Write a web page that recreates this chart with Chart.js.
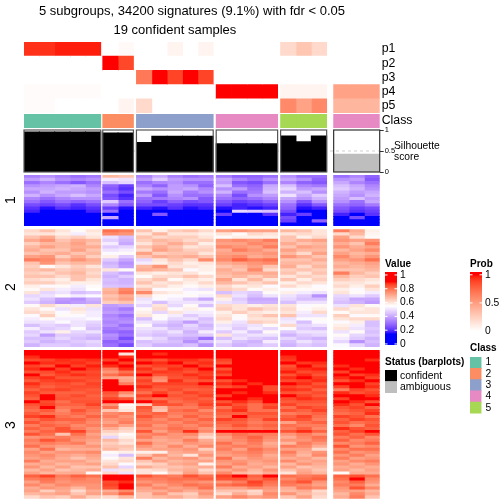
<!DOCTYPE html>
<html><head><meta charset="utf-8">
<style>
html,body{margin:0;padding:0;background:#fff;width:504px;height:504px;overflow:hidden}
canvas{position:absolute;left:0;top:0}
.t{position:absolute;font-family:"Liberation Sans",Helvetica,Arial,sans-serif;color:#000;white-space:pre;line-height:1}
</style>
<script src="https://cdn.jsdelivr.net/npm/chart.js@4/dist/chart.umd.min.js"></script>
</head><body>
<script>
// ---------- data ----------
const groupSizes = [5,2,5,4,3,3];
const sampleClass = [1,1,1,1,1, 2,2, 3,3,3,3,3, 4,4,4,4, 5,5,5, 4,4,4];
const classLabels = ['1','2','3','4','5'];
const classColors = ['#66C2A5','#FC8D62','#8DA0CB','#E78AC3','#A6D854'];
const trackLabels = ['p1','p2','p3','p4','p5'];
const p1 = [.93,.93,.97,.97,.97, 0,.03, 0,0,.06,0,.06, 0,0,0,0, .2,.3,.2, 0,0,0];
const p2 = [0,0,0,0,0, 1,.87, 0,0,0,0,0, 0,0,0,0, 0,0,0, 0,0,0];
const p3 = [0,0,0,0,0, 0,0, .68,1,.88,1,.88, 0,0,0,0, 0,0,0, 0,0,0];
const p4 = [.02,.02,.02,.02,.02, 0,0, 0,0,0,0,0, 1,1,1,1, .06,.06,.06, .48,.48,.48];
const p5 = [.02,.02,0,0,0, 0,.06, .2,0,0,0,0, 0,0,0,0, .6,.48,.6, .38,.38,.38];
const silhouette = [.95,.95,.95,.95,.95, .93,.93, .70,.85,.85,.85,.85, .67,.67,.67,.67, .86,.72,.86, .42,.42,.42];
const sampleStatus = [0,0,0,0,0, 0,0, 0,0,0,0,0, 0,0,0,0, 0,0,0, 1,1,1];
const statusLabels = ['confident','ambiguous'];
const statusColors = ['#000000','#BEBEBE'];
const silhouetteTicks = [0,0.5,1];
const valueTicks = [0,0.2,0.4,0.6,0.8,1];
const probTicks = [0,0.5,1];
// heat slices, values in hundredths, one row per line, samples left to right
const slice1 = [
[33,36,33,30,32,68,66,34,40,33,30,32,32,28,28,30,36,30,30,30,34,28],
[38,42,36,34,36,52,50,38,46,38,36,36,40,34,30,36,40,36,28,36,38,26],
[30,34,30,26,30,44,48,30,34,36,30,30,38,26,24,30,34,28,26,40,34,30],
[36,38,40,42,34,28,22,34,28,38,36,28,44,30,28,40,44,34,32,44,40,34],
[40,40,42,40,38,26,20,40,36,38,40,34,36,38,30,42,48,38,40,46,42,36],
[36,42,38,38,36,30,24,32,30,40,32,36,42,30,32,44,42,44,36,42,38,40],
[42,36,40,44,40,24,18,38,26,36,30,30,34,24,36,38,50,40,46,40,36,42],
[34,30,34,36,36,26,20,30,32,34,36,26,30,28,30,34,40,36,42,38,44,38],
[30,26,30,28,30,46,30,28,22,28,24,26,26,22,24,28,36,26,36,36,30,40],
[24,22,24,20,24,34,26,24,24,22,20,20,22,18,20,22,30,20,26,30,28,32],
[20,16,20,18,20,22,16,18,16,20,16,18,16,18,16,18,28,16,18,26,22,24],
[18,15,15,15,18,30,15,15,15,15,15,15,15,48,46,44,24,15,15,24,20,22],
[15,15,15,15,15,15,15,15,26,15,15,15,22,15,15,20,18,22,15,18,15,20],
[15,15,15,15,15,40,15,15,15,15,15,15,15,15,15,15,24,15,15,15,24,15],
[15,15,15,15,15,15,15,15,15,15,15,15,15,15,15,15,22,15,28,15,15,15],
[15,15,15,15,15,15,15,15,15,15,15,15,15,15,15,15,15,15,15,15,15,15]];
const slice2 = [
[62,66,60,56,60,80,78,66,58,64,66,62,72,74,72,72,68,66,60,78,70,58],
[60,60,58,52,58,76,74,60,68,60,60,58,60,56,62,60,60,62,60,62,68,57],
[66,70,62,64,60,50,44,66,62,64,64,60,56,58,58,58,66,58,62,72,62,56],
[70,74,66,70,68,47,42,64,68,66,62,64,74,76,74,78,66,70,72,74,72,74],
[64,68,68,72,66,52,40,60,66,70,66,58,72,72,76,74,70,66,68,70,66,78],
[68,72,68,70,70,46,48,66,70,66,60,62,76,74,72,78,66,72,70,74,70,72],
[70,66,66,72,66,50,52,62,72,68,64,64,70,78,74,70,72,68,68,68,72,76],
[66,68,70,66,68,54,56,72,64,66,66,60,72,72,72,74,68,62,72,72,68,70],
[72,74,64,70,64,58,46,66,70,68,70,66,74,76,70,72,74,70,66,76,70,74],
[78,76,70,74,70,46,40,48,60,66,62,76,76,82,78,80,66,66,70,72,74,80],
[66,74,66,68,68,42,36,52,58,62,58,60,70,72,74,76,68,68,66,68,70,72],
[64,56,60,64,60,44,38,68,74,60,60,58,66,68,72,66,70,62,68,70,68,70],
[66,68,64,66,64,60,56,70,68,66,54,58,70,66,76,62,64,66,64,66,66,68],
[64,62,66,68,62,44,40,60,58,60,60,56,68,70,70,70,66,60,66,78,68,64],
[66,66,62,66,64,42,46,56,62,62,66,62,66,68,64,68,60,64,62,68,64,66],
[62,60,58,66,60,44,42,62,66,56,60,58,72,60,68,60,66,58,64,64,62,60],
[64,64,60,58,58,43,42,66,60,62,58,62,68,66,62,66,58,62,60,60,60,58],
[58,54,56,52,56,45,44,60,62,58,56,58,62,58,60,54,62,58,54,62,58,64],
[56,60,52,50,55,68,76,66,54,56,52,50,64,62,56,58,54,56,56,58,54,60],
[60,48,50,44,46,70,78,76,60,58,54,56,44,48,46,56,58,52,50,60,56,52],
[48,50,56,52,54,66,70,62,56,54,56,52,62,50,44,50,50,46,36,48,50,46],
[50,44,38,36,42,68,72,50,54,52,46,40,58,46,40,40,48,44,44,46,40,40],
[46,42,36,38,40,64,66,52,44,50,50,50,50,48,42,42,44,50,50,44,42,38],
[56,62,58,52,60,38,40,48,60,48,56,44,62,60,58,60,60,54,56,50,60,56],
[60,56,50,60,50,36,32,56,62,54,58,56,64,60,66,62,62,56,58,62,58,60],
[62,60,54,58,52,38,36,58,48,60,52,52,58,64,60,58,60,52,62,56,60,60],
[54,64,56,54,52,34,30,60,56,52,46,50,60,56,62,66,66,50,50,64,54,56],
[52,56,52,52,54,36,34,44,54,48,50,44,62,54,60,60,50,54,56,60,62,62],
[50,50,54,50,48,34,36,50,48,44,38,46,58,50,64,62,52,44,54,54,58,44],
[44,48,46,50,46,36,30,56,44,42,48,42,50,48,50,56,62,48,50,58,52,44],
[52,46,48,54,44,32,34,50,50,44,46,44,52,46,52,48,54,46,44,60,50,46],
[46,50,58,48,50,30,28,48,46,50,42,52,46,52,44,56,46,50,50,50,56,44],
[48,38,46,46,44,36,30,46,44,46,44,46,60,48,50,50,42,46,48,56,48,46],
[44,44,48,44,42,34,24,52,48,42,40,30,44,50,46,44,48,44,42,52,46,42],
[46,42,44,46,48,28,30,44,46,44,36,44,50,44,42,52,44,50,46,48,36,44],
[42,46,46,44,46,30,24,46,42,42,44,36,46,42,44,46,42,46,44,54,48,42]];
const slice3 = [
[95,95,95,95,95,92,92,95,95,95,95,95,95,95,95,95,95,95,95,95,95,95],
[93,93,95,95,93,90,60,93,88,95,95,95,95,95,95,95,95,95,95,95,95,95],
[88,90,92,90,92,92,88,90,92,93,92,90,90,95,95,95,88,92,93,95,95,92],
[85,86,88,87,88,86,90,86,84,88,88,86,86,95,95,95,87,90,90,92,93,88],
[91,88,87,88,86,90,86,91,88,90,86,88,84,95,95,95,90,87,88,95,90,92],
[86,84,90,86,89,88,92,84,86,86,90,86,92,95,95,95,84,90,86,88,90,90],
[88,90,86,91,87,78,88,88,83,88,86,90,84,95,95,95,86,88,89,90,88,95],
[84,85,88,85,85,74,80,85,87,86,84,87,88,95,95,95,89,85,86,86,92,90],
[90,83,86,88,86,80,84,90,84,85,88,86,85,95,90,95,84,88,84,92,86,88],
[86,88,84,84,85,72,70,83,76,84,85,88,90,92,93,95,88,90,87,88,90,86],
[83,86,87,86,84,92,72,86,74,88,83,84,84,88,90,95,85,86,88,84,88,90],
[88,84,85,83,86,95,78,84,86,86,86,92,88,90,88,92,92,88,84,90,92,86],
[85,82,84,85,85,93,90,88,84,84,84,85,84,86,90,85,86,84,86,86,90,88],
[82,85,86,84,83,91,95,84,82,85,82,83,92,93,92,85,88,87,82,78,86,84],
[86,83,82,82,84,84,76,80,86,82,86,84,90,88,90,88,84,83,85,88,84,86],
[84,93,83,85,82,82,70,86,92,84,83,86,86,92,90,93,90,86,83,90,92,88],
[82,92,84,83,83,86,84,82,80,82,84,82,90,90,88,90,85,88,86,86,90,90],
[92,85,80,84,84,90,90,90,86,80,82,84,84,88,84,95,83,84,84,92,88,84],
[84,86,82,82,86,74,56,64,84,84,80,86,88,84,80,84,86,82,82,88,84,90],
[82,92,79,80,82,80,58,84,68,78,78,82,80,86,80,86,80,86,84,84,86,82],
[80,83,76,84,80,66,60,82,66,80,82,76,84,88,80,80,84,82,86,82,84,86],
[83,80,78,81,78,76,78,80,82,78,79,80,82,82,84,84,78,80,82,80,82,88],
[86,88,80,78,82,78,74,84,80,76,82,78,80,90,82,82,82,86,80,86,84,80],
[80,84,82,82,78,74,76,80,76,80,78,82,86,84,80,86,84,84,78,82,86,84],
[84,80,78,80,76,72,78,78,78,76,80,78,82,82,78,80,72,80,82,84,80,82],
[78,82,80,76,78,76,72,80,74,78,76,80,80,84,80,82,80,78,78,80,76,84],
[82,79,84,78,74,70,64,76,76,80,78,74,78,80,78,80,78,82,76,88,84,82],
[78,82,84,86,76,64,62,84,72,78,88,76,92,95,90,95,84,88,82,82,86,92],
[84,80,66,80,72,60,56,76,78,74,76,66,76,80,78,78,74,78,74,84,80,84],
[74,76,78,76,74,48,58,78,72,74,72,62,72,78,82,76,70,76,80,78,82,76],
[78,84,80,74,72,68,62,72,70,72,78,70,74,76,80,74,74,74,78,82,76,78],
[76,78,76,78,70,64,60,80,72,70,74,72,80,74,78,70,68,78,74,76,78,82],
[80,74,72,72,74,66,66,74,70,76,70,76,76,78,76,72,78,76,70,84,74,76],
[72,80,68,70,70,68,64,70,72,72,74,64,78,72,80,76,72,72,62,76,80,80],
[76,72,74,74,76,56,58,58,58,70,72,70,74,76,78,74,78,70,74,80,74,76],
[74,76,72,70,72,52,44,66,74,68,60,74,72,74,76,70,74,68,76,74,78,72],
[72,74,70,66,70,56,60,78,68,72,74,68,80,70,74,72,70,72,68,78,72,74],
[78,70,72,72,68,60,62,66,72,68,70,72,74,74,72,74,76,70,72,72,76,78],
[70,72,68,70,72,62,54,62,64,70,72,58,72,76,70,72,68,74,70,74,70,74],
[74,68,72,66,66,66,48,70,66,66,68,70,78,70,72,68,72,66,68,70,72,70],
[68,72,66,68,70,50,60,60,62,68,70,62,70,74,68,74,66,70,66,72,68,72],
[72,68,70,70,56,62,50,60,56,64,72,66,76,68,66,70,60,72,68,56,70,70],
[82,86,78,82,80,93,92,84,80,78,84,80,86,90,82,92,80,78,80,82,84,80],
[78,80,76,78,76,95,90,78,78,80,80,82,84,84,80,84,76,80,82,80,90,76],
[72,78,74,76,76,85,88,74,76,78,76,74,74,78,86,80,80,84,74,76,82,74],
[76,72,76,74,74,86,90,78,72,76,80,78,80,82,84,78,78,76,72,78,78,70],
[70,74,72,68,74,84,92,72,76,72,74,80,72,72,76,74,70,78,76,74,84,76],
[72,64,70,62,70,70,76,70,70,74,70,72,66,66,62,72,68,70,62,72,72,68],
[68,70,72,66,72,74,82,66,74,66,64,74,62,70,64,76,74,68,64,68,76,70],
[62,66,64,70,64,62,68,66,68,70,66,70,72,76,72,74,66,72,62,70,78,66]];

// ---------- layout ----------
const FONT = '"Liberation Sans",Helvetica,Arial,sans-serif';
const heatLeft = 24, heatRight = 379.7;
const groupGapsPx = [2,3,3,3,7];
const columnPx = (heatRight-heatLeft-groupGapsPx.reduce((a,b)=>a+b,0))/22;
const colStart = [];
const groupSpans = [];
(function(){ let x=0; groupSizes.forEach((n,k)=>{ const s=x; for(let i=0;i<n;i++){colStart.push(x); x+=1;} groupSpans.push([s,x]); x+= (groupGapsPx[k]||0)/columnPx; }); })();
const xMax = colStart[21]+1;

// ---------- colour ramps interpolated in LAB ----------
function rgb2lab(c){
  let [r,g,b]=c.map(v=>{v/=255;return v>0.04045?Math.pow((v+0.055)/1.055,2.4):v/12.92;});
  let X=(r*.4124564+g*.3575761+b*.1804375)/.95047, Y=r*.2126729+g*.7151522+b*.072175, Z=(r*.0193339+g*.119192+b*.9503041)/1.08883;
  const f=t=>t>0.008856?Math.cbrt(t):7.787*t+16/116;
  return [116*f(Y)-16,500*(f(X)-f(Y)),200*(f(Y)-f(Z))];
}
function lab2rgb(l){
  const fy=(l[0]+16)/116,fx=l[1]/500+fy,fz=fy-l[2]/200;
  const g=t=>t*t*t>0.008856?t*t*t:(t-16/116)/7.787;
  const X=g(fx)*.95047,Y=g(fy),Z=g(fz)*1.08883;
  const lin=[3.2404542*X-1.5371385*Y-.4985314*Z,-.969266*X+1.8760108*Y+.041556*Z,.0556434*X-.2040259*Y+1.0572252*Z];
  return lin.map(v=>{v=Math.max(0,Math.min(1,v));v=v>0.0031308?1.055*Math.pow(v,1/2.4)-.055:12.92*v;return Math.round(v*255);});
}
function ramp(stops){
  const labs=stops.map(s=>rgb2lab(s[1]));
  return v=>{
    if(v<=stops[0][0]) return 'rgb('+stops[0][1].join(',')+')';
    for(let i=1;i<stops.length;i++){
      if(v<=stops[i][0]){
        const t=(v-stops[i-1][0])/(stops[i][0]-stops[i-1][0]);
        const c=lab2rgb(labs[i].map((x,k)=>labs[i-1][k]+(x-labs[i-1][k])*t));
        return 'rgb('+c.join(',')+')';
      }
    }
    return 'rgb('+stops[stops.length-1][1].join(',')+')';
  };
}
const valueColor = ramp([[0.15,[0,0,255]],[0.55,[255,255,255]],[0.9,[255,0,0]]]);
const probColor = ramp([[0,[255,255,255]],[1,[255,0,0]]]);

// ---------- helpers ----------
let zIndex=1;
function makeCanvas(){
  const c=document.createElement('canvas');
  c.width=504;c.height=504;c.style.width='504px';c.style.height='504px';c.style.zIndex=zIndex++;
  document.body.appendChild(c);
  return c;
}
function padFor(b,hasAxis){return {left:b.l,top:b.t,right:hasAxis?0:504-b.r,bottom:504-b.b};}
// the right-hand axis takes all the room to the canvas edge so that its labels are not clipped
function axisRoom(b,hasAxis){return s=>{if(hasAxis!==false)s.width=504-b.r;};}
// grid of cells: one bar dataset per column, one category per row
function cellPanel(box,rowLabels,spans,colourOf,tickFont,tickPad){
  const datasets=spans.map((sp,c)=>({
    data:rowLabels.map(()=>sp),
    backgroundColor:rowLabels.map((_,r)=>colourOf(r,c)),
    borderWidth:0,barPercentage:1,categoryPercentage:1,grouped:false,inflateAmount:0.4
  }));
  new Chart(makeCanvas(),{type:'bar',data:{labels:rowLabels,datasets},options:{
    indexAxis:'y',responsive:false,animation:false,devicePixelRatio:1,events:[],
    layout:{padding:padFor(box,!!tickFont)},
    plugins:{legend:{display:false},title:{display:false},tooltip:{enabled:false}},
    scales:{
      x:{type:'linear',display:false,min:spans[0][0],max:spans[spans.length-1][1],offset:false,stacked:false},
      y:{type:'category',position:'right',display:!!tickFont,afterFit:axisRoom(box,!!tickFont),
         grid:{display:false,drawTicks:false},border:{display:false},
         ticks:{font:{family:FONT,size:tickFont||10},color:'#000',padding:tickPad||2,autoSkip:false,maxRotation:0}}
    }
  }});
}
const sampleSpans=colStart.map(x=>[x,x+1]);
function text(str,x,y,size,opt){
  opt=opt||{};
  const d=document.createElement('div');d.className='t';d.textContent=str;
  d.style.left=x+'px';d.style.top=y+'px';d.style.fontSize=size+'px';d.style.zIndex=50;
  if(opt.bold)d.style.fontWeight='bold';
  if(opt.color)d.style.color=opt.color;
  if(opt.transform)d.style.transform=opt.transform;
  document.body.appendChild(d);
  return d;
}

// ---------- annotation tracks ----------
const tracks=[p1,p2,p3,p4,p5];
cellPanel({l:heatLeft,r:heatRight,t:42,b:113},trackLabels,sampleSpans,(r,c)=>probColor(tracks[r][c]),12.3,2);
cellPanel({l:heatLeft,r:heatRight,t:114,b:128},['Class'],sampleSpans,(r,c)=>classColors[sampleClass[c]-1],12.3,2);

// ---------- silhouette ----------
const silBox={l:heatLeft,r:heatRight,t:130,b:172};
const silPlugin={id:'silFrame',
  beforeDatasetsDraw(ch){
    const {ctx,scales:{x,y}}=ch;
    ctx.save();ctx.strokeStyle='#d0d0d0';ctx.lineWidth=1;ctx.setLineDash([3,3]);
    ctx.beginPath();ctx.moveTo(x.getPixelForValue(0),y.getPixelForValue(.5));ctx.lineTo(x.getPixelForValue(xMax),y.getPixelForValue(.5));ctx.stroke();ctx.restore();
  },
  afterDatasetsDraw(ch){
    const {ctx,scales:{x,y}}=ch;
    ctx.save();ctx.strokeStyle='#555';ctx.lineWidth=1.2;
    groupSpans.forEach((s,k)=>{
      if(k===5)ctx.strokeStyle='#333';
      const a=x.getPixelForValue(s[0]),b=x.getPixelForValue(s[1]),t=y.getPixelForValue(1),u=y.getPixelForValue(0);
      ctx.strokeRect(a,t,b-a,u-t);
    });
    ctx.restore();
  }};
new Chart(makeCanvas(),{type:'bar',data:{datasets:[{
    data:silhouette.map((v,i)=>({x:colStart[i]+.5,y:v})),
    backgroundColor:sampleStatus.map(s=>statusColors[s]),
    borderWidth:0,barPercentage:1,categoryPercentage:1,inflateAmount:0.5}]},
  plugins:[silPlugin],
  options:{responsive:false,animation:false,devicePixelRatio:1,events:[],
    layout:{padding:padFor(silBox,true)},
    plugins:{legend:{display:false},tooltip:{enabled:false}},
    scales:{
      x:{type:'linear',display:false,min:0,max:xMax,offset:false,afterBuildTicks(s){s.ticks=[{value:0},{value:xMax}];}},
      y:{type:'linear',position:'right',min:0,max:1,afterFit:axisRoom(silBox),
         afterBuildTicks(s){s.ticks=silhouetteTicks.map(v=>({value:v}));},
         grid:{display:true,drawOnChartArea:false,drawTicks:true,tickLength:4,color:'#333'},border:{display:false},
         ticks:{font:{family:FONT,size:7.5},color:'#000',padding:1,autoSkip:false,maxRotation:0,callback:v=>String(v)}}
    }}});

// ---------- heat slices ----------
[[slice1,175,226],[slice2,229.3,347],[slice3,350,498.7]].forEach(([rows,t,b])=>{
  cellPanel({l:heatLeft,r:heatRight,t,b},rows.map((_,i)=>String(i)),sampleSpans,(r,c)=>valueColor(rows[r][c]/100));
});

// ---------- colour bars ----------
function colorBar(box,lo,hi,ticks,colorFn){
  const dashes={id:'dashes',afterDatasetsDraw(ch){
    const {ctx,chartArea:a,scales:{y}}=ch;
    ctx.save();ctx.strokeStyle='#fff';ctx.lineWidth=1;
    ticks.forEach(v=>{const p=y.getPixelForValue(v);
      ctx.beginPath();ctx.moveTo(a.left,p);ctx.lineTo(a.left+2.5,p);ctx.moveTo(a.right-2.5,p);ctx.lineTo(a.right,p);ctx.stroke();});
    ctx.restore();
  }};
  new Chart(makeCanvas(),{type:'bar',data:{labels:['bar'],datasets:[{data:[[lo,hi]],borderWidth:0,barPercentage:1,categoryPercentage:1,
      backgroundColor(c){
        const a=c.chart.chartArea; if(!a) return '#fff';
        const g=c.chart.ctx.createLinearGradient(0,a.bottom,0,a.top);
        for(let i=0;i<=60;i++){const t=i/60;g.addColorStop(t,colorFn(lo+(hi-lo)*t));}
        return g;
      }}]},
    plugins:[dashes],
    options:{responsive:false,animation:false,devicePixelRatio:1,events:[],
      layout:{padding:padFor(box,true)},
      plugins:{legend:{display:false},tooltip:{enabled:false}},
      scales:{
        x:{display:false},
        y:{type:'linear',position:'right',min:lo,max:hi,afterFit:axisRoom(box),
           afterBuildTicks(s){s.ticks=ticks.map(v=>({value:v}));},
           grid:{display:false,drawTicks:false},border:{display:false},
           ticks:{font:{family:FONT,size:10.3},color:'#000',padding:3,autoSkip:false,maxRotation:0,callback:v=>String(v)}}
      }}});
}
colorBar({l:385,r:397,t:272,b:345},-0.015,1.043,valueTicks,valueColor);
colorBar({l:470,r:482,t:272,b:332},-0.018,1.05,probTicks,probColor);

// ---------- legends ----------
cellPanel({l:385,r:397,t:370,b:393},statusLabels,[[0,1]],(r)=>statusColors[r],10.4,3);
cellPanel({l:470,r:481.5,t:357,b:413.5},classLabels,[[0,1]],(r)=>classColors[r],10.3,4);

// ---------- text ----------
text('5 subgroups, 34200 signatures (9.1%) with fdr < 0.05',39,3.5,13);
text('19 confident samples',113.5,22.5,13);
text('Silhouette',394,141,10.3);
text('score',394,151.5,10.3);
text('1',6,193,14,{transform:'rotate(-90deg)'});
text('2',6,280,14,{transform:'rotate(-90deg)'});
text('3',6,418,14,{transform:'rotate(-90deg)'});
text('Value',385,259,10,{bold:true});
text('Prob',470,259,10,{bold:true});
text('Status (barplots)',385,356.5,10,{bold:true});
text('Class',470,343,10,{bold:true});
</script>
</body></html>
